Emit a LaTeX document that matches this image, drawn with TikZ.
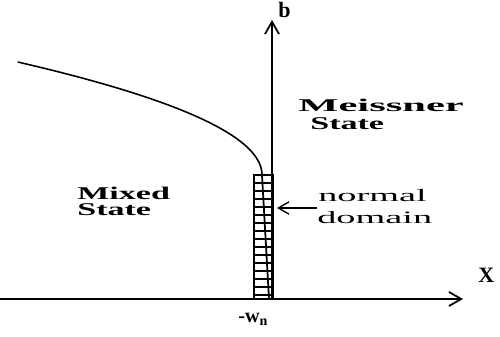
\documentclass[tikz,border=0pt]{standalone}
\usepackage{fontspec}
\setmainfont{Liberation Serif}
\newfontfamily\boldwide[FakeStretch=1.9]{Liberation Serif}
\newfontfamily\regwide[FakeStretch=2.2]{Liberation Serif}
\usetikzlibrary{arrows.meta}
\begin{document}
\begin{tikzpicture}[x=0.02cm,y=-0.02cm,
  axis/.style={line width=1pt,-{Straight Barb[length=7pt,width=8pt,line width=1pt]}},
  statelabel/.style={anchor=base west,inner sep=0pt,font=\boldwide\bfseries\fontsize{10.2}{12}\selectfont},
  domlabel/.style={anchor=base west,inner sep=0pt,font=\regwide\fontsize{9.9}{12}\selectfont},
  axlabel/.style={anchor=base west,inner sep=0pt,font=\bfseries\fontsize{12.5}{14}\selectfont},
  hatch/.style={line width=0.8pt}]
\useasboundingbox (0,0) rectangle (500,337);
% axes
\coordinate (xstart) at (0,299);
\coordinate (xtip) at (463,299);
\coordinate (borig) at (272,299);
\coordinate (btip) at (272,20);
\draw[axis] (xstart) -- (xtip);
\draw[axis] (borig) -- (btip);
% normal domain rectangle
\coordinate (rtl) at (254,175);
\coordinate (rbr) at (273,299);
\foreach \yy in {183,191,...,295} \draw[hatch] (254,\yy) -- (273,\yy);
\coordinate (itop) at (262,175);
\coordinate (ibot) at (269,299);
\draw[line width=1pt] (itop) -- (ibot);
\draw[line width=1.4pt] (rtl) rectangle (rbr);
% curve
\draw[line width=0.9pt] plot[domain=0:113,samples=80,smooth] ({262-(\x/7.23)^2},{175-\x});
% pointer
\coordinate (ptr) at (317,208);
\coordinate (ptrtip) at (277,208);
\draw[line width=0.8pt,-{Straight Barb[length=6pt,width=7pt,line width=0.8pt]}] (ptr) -- (ptrtip);
% labels
\node[statelabel] (mixed) at (77,200) {Mixed};
\node[statelabel] (mstate) at (77,216) {State};
\node[statelabel] (meiss) at (298,112) {\scalebox{1.25}[1]{Meissner}};
\node[statelabel] (sstate) at (310,130) {State};
\node[domlabel] (normal) at (318,202) {normal};
\node[domlabel] (domain) at (317,224) {domain};
\node[axlabel] (xlab) at (478,283) {X};
\node[axlabel] (blab) at (278,18) {b};
\node[anchor=base west,inner sep=0pt,font=\bfseries\fontsize{11.5}{12}\selectfont] (wn) at (238,322) {-w\raisebox{-0.4ex}{\fontsize{8}{8}\selectfont n}};
\end{tikzpicture}
\end{document}
